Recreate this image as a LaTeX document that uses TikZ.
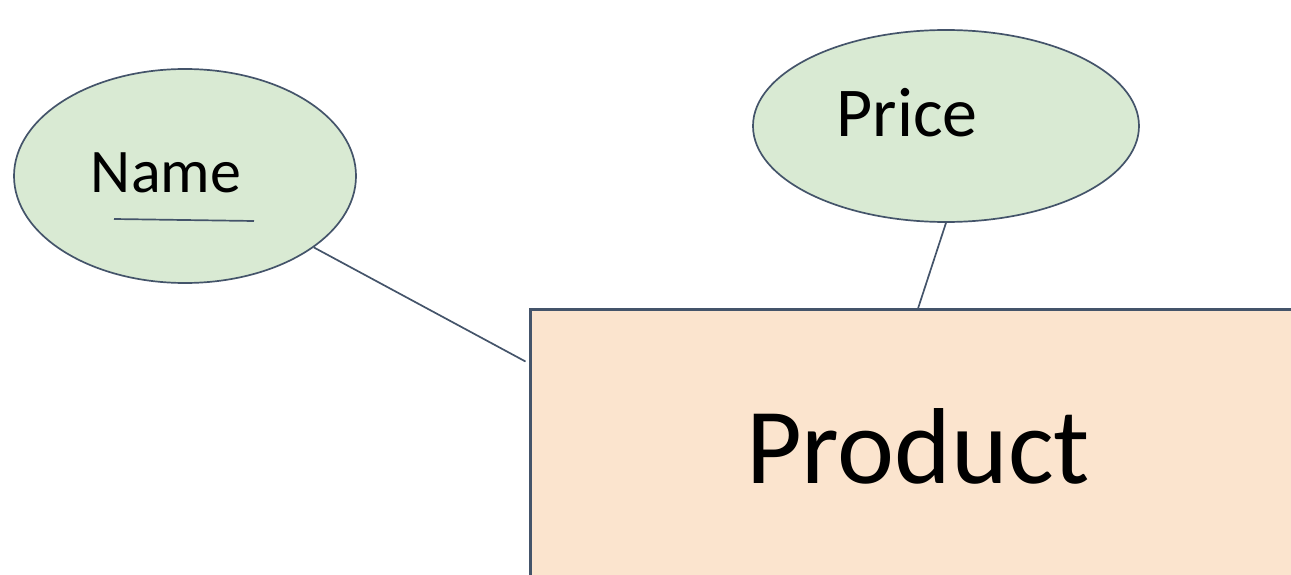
\documentclass[tikz,border=0pt]{standalone}
\usepackage{fontspec}
\setmainfont{Carlito}
\usetikzlibrary{shapes.geometric}
\definecolor{edgeblue}{HTML}{44546A}
\definecolor{attrgreen}{HTML}{D9EAD3}
\definecolor{entitypeach}{HTML}{FBE4CE}
\tikzset{
  attr/.style={ellipse, draw=edgeblue, fill=attrgreen, line width=1.7pt, inner sep=0pt},
  entity/.style={rectangle, draw=edgeblue, fill=entitypeach, line width=3pt, inner sep=0pt},
  link/.style={draw=edgeblue, line width=1.7pt},
  lbl/.style={anchor=base, inner sep=0pt, text=black}
}
\begin{document}
\begin{tikzpicture}[x=1pt, y=-1pt]
  \useasboundingbox (0,0) rectangle (1291,575);
  \clip (0,0) rectangle (1291,575);
  % attributes
  \node[attr, minimum width=342pt, minimum height=214pt] (nameAttr) at (185,176) {};
  \node[attr, minimum width=386pt, minimum height=192pt] (priceAttr) at (946,126) {};
  % entity, running off the page to the right and below
  \node[entity, minimum width=870pt, minimum height=391pt] (prod) at (965,504.5) {};
  % labels
  \node[lbl, font=\fontsize{62}{62}\selectfont] (nameTxt) at (166,193) {Name};
  \node[lbl, font=\fontsize{70}{70}\selectfont] (priceTxt) at (907,137) {Price};
  \node[lbl, font=\fontsize{108}{108}\selectfont] (prodTxt) at (918,483) {Product};
  % key underline
  \draw[link] (114,219) -- (254,221);
  % connectors
  \coordinate (nameEnd) at ([shift={(-3pt,-54pt)}]prod.north west);
  \coordinate (priceEnd) at ([shift={(-47pt,-1pt)}]prod.north);
  \draw[link] (nameAttr.-29.4) -- (nameEnd);
  \draw[link] (priceAttr.south) -- (priceEnd);
\end{tikzpicture}
\end{document}
